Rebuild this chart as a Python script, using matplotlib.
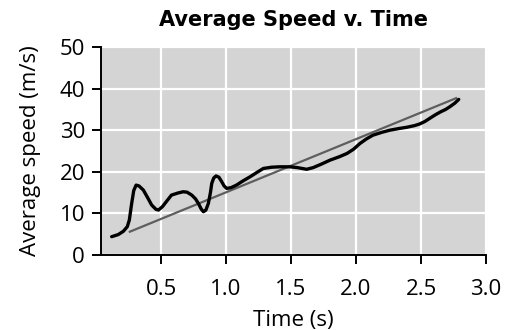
import matplotlib.pyplot as plt

time_s = [0.12, 0.17, 0.21, 0.24, 0.256, 0.274, 0.29, 0.308, 0.33, 0.364, 0.40, 0.428, 0.46, 0.48,
          0.51, 0.53, 0.58, 0.63, 0.67, 0.70, 0.736, 0.765, 0.787, 0.81, 0.826, 0.845, 0.864, 0.88, 0.89,
          0.905, 0.923, 0.945, 0.967, 0.985, 1.005, 1.04, 1.08, 1.13, 1.185, 1.24, 1.287, 1.35, 1.415,
          1.49, 1.55, 1.62, 1.67, 1.73, 1.8, 1.87, 1.93, 1.98, 2.03, 2.08, 2.13, 2.2, 2.26, 2.33, 2.39,
          2.45, 2.49, 2.53, 2.57, 2.61, 2.65, 2.69, 2.72, 2.76, 2.79]
speed = [4.4, 4.9, 5.7, 6.8, 8.4, 12.4, 15.5, 16.8, 16.6, 15.6, 13.6, 12.0, 11.0, 10.8,
         11.6, 12.4, 14.4, 14.9, 15.2, 15.1, 14.4, 13.5, 12.4, 11.0, 10.4, 10.8, 12.4, 15.0, 17.2,
         18.5, 19.0, 18.7, 17.6, 16.6, 16.0, 16.2, 16.8, 17.8, 18.8, 19.9, 20.8, 21.1, 21.2,
         21.2, 21.0, 20.6, 21.0, 21.8, 22.8, 23.6, 24.4, 25.4, 26.8, 27.9, 28.8, 29.5, 30.0, 30.4, 30.7,
         31.1, 31.5, 32.1, 32.9, 33.7, 34.4, 35.0, 35.6, 36.5, 37.4]

# Straight fit line end points
fit_t = [0.26, 2.77]
fit_v = [5.6, 37.7]

xticks = [0.5, 1.0, 1.5, 2.0, 2.5, 3.0]
yticks = [0, 10, 20, 30, 40, 50]

fig = plt.figure(figsize=(5.06, 3.30), dpi=100)
ax = fig.add_axes([0.1996, 0.2273, 0.7609, 0.6303])
ax.set_facecolor('#d4d4d4')

ax.plot(fit_t, fit_v, color='#5e5e5e', lw=1.6, zorder=3)
ax.plot(time_s, speed, color='black', lw=2.4, solid_capstyle='round', solid_joinstyle='round', zorder=4)

ax.set_xlim(0.038, 3.0)
ax.set_ylim(0, 50)
ax.set_xticks(xticks)
ax.set_yticks(yticks)
ax.set_xticklabels(['%.1f' % t for t in xticks])
ax.grid(True, color='white', lw=1.6)
ax.set_axisbelow(True)

for s in ['top', 'right']:
    ax.spines[s].set_visible(False)
for s in ['left', 'bottom']:
    ax.spines[s].set_linewidth(1.4)

ax.tick_params(length=6.5, width=1.4, labelsize=16)
ax.tick_params(axis='x', pad=11)
ax.tick_params(axis='y', pad=5)
for lab in ax.get_xticklabels() + ax.get_yticklabels():
    lab.set_family('Open Sans')

ax.set_xlabel('Time (s)', family='Open Sans', fontsize=16, labelpad=7)
ax.set_ylabel('Average speed (m/s)', family='Open Sans', fontsize=16, labelpad=13)
ax.set_title('Average Speed v. Time', family='DejaVu Sans', fontweight='bold', fontsize=15, pad=15)

fig.savefig('out.png', dpi=100)
